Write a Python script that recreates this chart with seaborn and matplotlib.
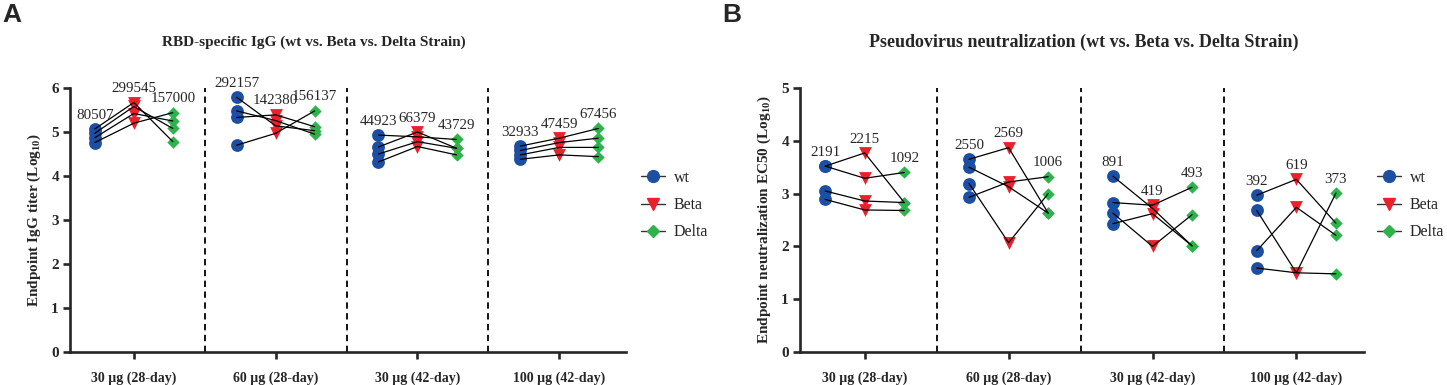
import matplotlib
matplotlib.use("Agg")
import matplotlib.pyplot as plt
from matplotlib.lines import Line2D
import seaborn as sns
import pandas as pd

# groups (x categories) and strains
groups = ["30 µg (28-day)", "60 µg (28-day)", "30 µg (42-day)", "100 µg (42-day)"]
strains = ["wt", "Beta", "Delta"]

# Panel A: RBD-specific IgG, log10 titers, one row per group, 4 animals each
igg_wt = [[5.07, 4.97, 4.87, 4.76], [5.79, 5.48, 5.33, 4.70],
          [4.93, 4.66, 4.50, 4.32], [4.68, 4.58, 4.48, 4.38]]
igg_beta = [[5.67, 5.58, 5.42, 5.20], [5.14, 5.26, 5.39, 4.97],
            [4.89, 5.00, 4.78, 4.67], [4.86, 4.76, 4.65, 4.48]]
igg_delta = [[4.78, 5.08, 5.25, 5.44], [5.03, 4.95, 5.12, 5.48],
             [4.83, 4.63, 4.63, 4.48], [5.08, 4.86, 4.65, 4.44]]
igg_labels = [[80507, 299545, 157000], [292157, 142380, 156137],
              [44923, 66379, 43729], [32933, 47459, 67456]]

# Panel B: pseudovirus neutralization, log10 EC50
neut_wt = [[3.52, 3.52, 3.05, 2.89], [3.65, 3.50, 3.19, 2.93],
           [3.33, 2.83, 2.63, 2.43], [2.97, 2.68, 1.92, 1.59]]
neut_beta = [[3.77, 3.29, 2.86, 2.69], [3.87, 3.13, 2.07, 3.22],
             [2.72, 2.78, 2.00, 2.62], [3.27, 1.50, 2.74, 1.50]]
neut_delta = [[2.83, 3.40, 2.83, 2.68], [2.63, 2.63, 3.00, 3.32],
              [2.01, 3.12, 2.60, 2.01], [2.44, 3.01, 2.21, 1.48]]
neut_labels = [[2191, 2215, 1092], [2550, 2569, 1006],
               [891, 419, 493], [392, 619, 373]]

colors = {"wt": "#1C4EA2", "Beta": "#E8212B", "Delta": "#2EB34B"}
markers = {"wt": "o", "Beta": "v", "Delta": "D"}
msize = {"wt": 85, "Beta": 85, "Delta": 40}
offsets = {"wt": -0.275, "Beta": 0.0, "Delta": 0.275}


def to_long(wt, beta, delta):
    rows = []
    for g in range(len(groups)):
        for s, vals in zip(strains, [wt, beta, delta]):
            for i, v in enumerate(vals[g]):
                rows.append({"group": g, "strain": s, "pair": f"{g}-{i}",
                             "x": g + offsets[s], "value": v})
    return pd.DataFrame(rows)


def draw_panel(ax, df, labels, ymax, ylabel):
    for s in strains:
        sub = df[df.strain == s]
        sns.scatterplot(data=sub, x="x", y="value", ax=ax, color=colors[s],
                        marker=markers[s], s=msize[s], edgecolor=colors[s],
                        linewidth=0, zorder=3, legend=False)
    sns.lineplot(data=df, x="x", y="value", units="pair", estimator=None,
                 ax=ax, color="black", lw=0.9, zorder=4, legend=False)
    for g in range(len(groups)):
        for k, s in enumerate(strains):
            top = df[(df.group == g) & (df.strain == s)].value.max()
            ax.annotate(str(labels[g][k]), (g + offsets[s], top),
                        xytext=(0, 10), textcoords="offset points",
                        ha="center", va="center", fontsize=10.8)
    for xd in [0.5, 1.5, 2.5]:
        ax.axvline(xd, color="black", lw=1.3, ls=(0, (3.5, 2.5)), zorder=1)
    ax.set_xlim(-0.45, 3.47)
    ax.set_ylim(0, ymax)
    ax.set_yticks(range(ymax + 1))
    ax.set_xticks(range(len(groups)))
    ax.set_xticklabels(groups, fontweight="bold", fontsize=10)
    for t in ax.get_yticklabels():
        t.set_fontweight("bold")
        t.set_fontsize(11)
    ax.set_xlabel("")
    ax.set_ylabel(ylabel, fontweight="bold", fontsize=11, labelpad=6)
    sns.despine(ax=ax)
    for sp in ["left", "bottom"]:
        ax.spines[sp].set_linewidth(1.9)
    ax.tick_params(axis="y", width=1.9, length=5, pad=3)
    ax.tick_params(axis="x", width=1.9, length=5, pad=9)


sns.set_style("ticks")
plt.rcParams["font.family"] = ["Liberation Serif", "DejaVu Serif"]
plt.rcParams["mathtext.fontset"] = "custom"
plt.rcParams["mathtext.bf"] = "Liberation Serif:bold"
plt.rcParams["mathtext.rm"] = "Liberation Serif"

fig = plt.figure(figsize=(14.47, 3.85), dpi=100)
axA = fig.add_axes([70 / 1447, 33 / 385, 556 / 1447, 264 / 385])
axB = fig.add_axes([800 / 1447, 33 / 385, 564 / 1447, 264 / 385])

draw_panel(axA, to_long(igg_wt, igg_beta, igg_delta), igg_labels, 6,
           r"Endpoint IgG titer (Log$_{\mathbf{10}}$)")
draw_panel(axB, to_long(neut_wt, neut_beta, neut_delta), neut_labels, 5,
           r"Endpoint neutralization EC50 (Log$_{\mathbf{10}}$)")

handles = [Line2D([0], [0], color="#333333", lw=1.0, marker=markers[s],
                  markersize=8.5 if s != "Delta" else 6,
                  markerfacecolor=colors[s], markeredgecolor=colors[s])
           for s in strains]
for ax, xpos in [(axA, 641 / 1447), (axB, 1377 / 1447)]:
    ax.legend(handles, strains, loc="upper left",
              bbox_to_anchor=(xpos, 1 - 170 / 385), bbox_transform=fig.transFigure,
              frameon=False, fontsize=11.5, handlelength=1.5, handletextpad=0.55,
              labelspacing=0.7, borderaxespad=0, borderpad=0)

fig.text(314 / 1447, 1 - 42 / 385, "RBD-specific IgG (wt vs. Beta vs. Delta Strain)",
         ha="center", va="center", fontweight="bold", fontsize=11)
fig.text(1084 / 1447, 1 - 42 / 385,
         "Pseudovirus neutralization (wt vs. Beta vs. Delta Strain)",
         ha="center", va="center", fontweight="bold", fontsize=13)
fig.text(2 / 1447, 1 - 3 / 385, "A", ha="left", va="top", fontsize=19,
         fontweight="bold", family=["Liberation Sans", "DejaVu Sans"])
fig.text(722 / 1447, 1 - 3 / 385, "B", ha="left", va="top", fontsize=19,
         fontweight="bold", family=["Liberation Sans", "DejaVu Sans"])

fig.savefig("out.png", dpi=100, facecolor="white")
